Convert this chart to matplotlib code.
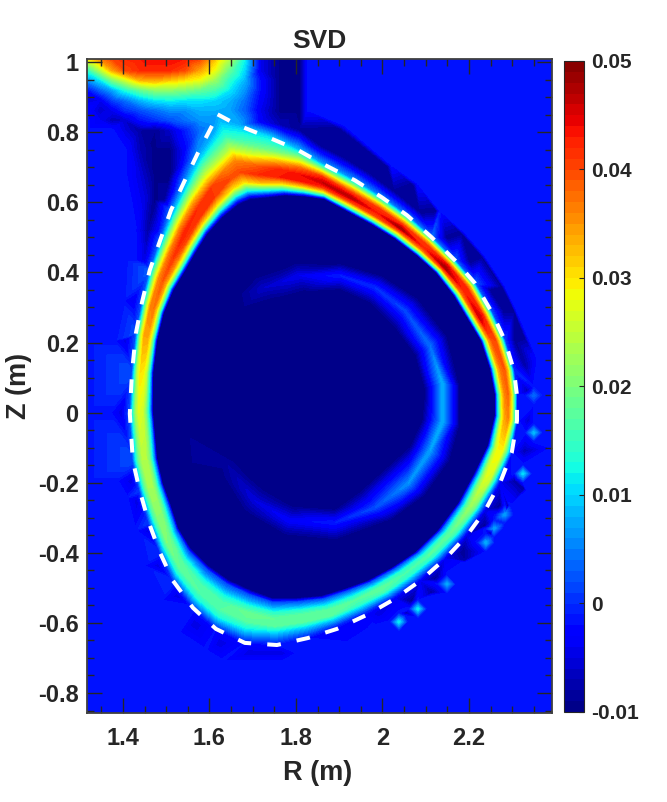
import numpy as np
import matplotlib
matplotlib.use('Agg')
import matplotlib.pyplot as plt

plt.rcParams['font.family'] = ['Liberation Sans', 'DejaVu Sans']
plt.rcParams['font.weight'] = 'bold'

dark = '#262626'
bg_val = -0.0016

# last closed flux surface
lcfs_r = [1.619, 1.666, 1.735, 1.802, 1.855, 1.936, 1.999, 2.057, 2.114, 2.168, 2.214, 2.253, 2.283, 2.304, 2.311,
          2.311, 2.299, 2.272, 2.237, 2.195, 2.145, 2.087, 2.029, 1.964, 1.895, 1.828, 1.756, 1.682, 1.615, 1.562,
          1.516, 1.486, 1.460, 1.439, 1.423, 1.416, 1.421, 1.430, 1.444, 1.462, 1.486, 1.511, 1.541, 1.573, 1.608]
lcfs_z = [0.851, 0.820, 0.786, 0.751, 0.714, 0.663, 0.614, 0.563, 0.500, 0.434, 0.369, 0.286, 0.206, 0.120, 0.049,
          -0.023, -0.114, -0.200, -0.280, -0.351, -0.417, -0.480, -0.531, -0.577, -0.617, -0.643, -0.663, -0.657, -0.617, -0.557,
          -0.480, -0.400, -0.314, -0.223, -0.137, -0.003, 0.114, 0.226, 0.314, 0.406, 0.491, 0.577, 0.657, 0.740, 0.823]

# edge of the dark core, same stations as the flux surface
core_r = [1.694, 1.735, 1.775, 1.821, 1.867, 1.920, 1.976, 2.029, 2.080, 2.124, 2.165, 2.200, 2.228, 2.249, 2.260,
          2.260, 2.244, 2.214, 2.175, 2.128, 2.075, 2.022, 1.966, 1.913, 1.860, 1.802, 1.744, 1.694, 1.643, 1.597,
          1.555, 1.527, 1.509, 1.492, 1.479, 1.469, 1.470, 1.479, 1.494, 1.516, 1.541, 1.566, 1.594, 1.629, 1.666]
core_z = [0.609, 0.614, 0.620, 0.617, 0.609, 0.574, 0.537, 0.497, 0.449, 0.400, 0.335, 0.263, 0.206, 0.126, 0.054,
          -0.009, -0.094, -0.171, -0.260, -0.337, -0.400, -0.443, -0.480, -0.503, -0.523, -0.529, -0.529, -0.506, -0.477, -0.437,
          -0.386, -0.329, -0.260, -0.203, -0.131, 0.006, 0.114, 0.206, 0.284, 0.349, 0.400, 0.454, 0.509, 0.557, 0.594]

# values across the radiating ring, at these fractions of the way from core edge to flux surface
ring_frac = [0.1, 0.2, 0.32, 0.45, 0.6, 0.75, 0.9, 1.0]
ring_vals = [
    [.012, .030, .040, .036, .024, .014, .009, .007],
    [.012, .032, .042, .038, .026, .017, .012, .008],
    [.012, .030, .043, .042, .032, .020, .014, .011],
    [.012, .030, .043, .044, .038, .027, .016, .009],
    [.012, .029, .041, .046, .042, .030, .015, .007],
    [.011, .027, .040, .047, .040, .029, .014, .006],
    [.010, .026, .040, .043, .041, .030, .014, .005],
    [.010, .025, .038, .048, .041, .030, .014, .004],
    [.009, .024, .037, .042, .041, .032, .015, .004],
    [.009, .024, .039, .048, .044, .032, .015, .003],
    [.009, .024, .038, .042, .042, .033, .015, .003],
    [.009, .024, .037, .046, .043, .031, .014, .002],
    [.008, .022, .034, .039, .040, .030, .013, .001],
    [.007, .020, .032, .037, .039, .031, .013, .000],
    [.007, .018, .030, .036, .038, .030, .013, -.001],
    [.006, .016, .028, .034, .036, .028, .012, -.001],
    [.005, .014, .025, .029, .029, .020, .007, -.002],
    [.004, .012, .022, .027, .026, .014, .002, -.004],
    [.003, .010, .018, .022, .019, .009, .000, -.005],
    [.002, .008, .015, .018, .015, .007, -.001, -.005],
    [.002, .008, .014, .017, .014, .007, .000, -.004],
    [.002, .007, .014, .016, .014, .007, .000, -.004],
    [.002, .007, .014, .018, .016, .008, .000, -.004],
    [.002, .007, .013, .017, .015, .008, .000, -.003],
    [.002, .007, .013, .018, .017, .008, .000, -.003],
    [.002, .007, .014, .018, .017, .009, .002, -.002],
    [.002, .007, .014, .018, .017, .009, .002, -.002],
    [.002, .007, .014, .019, .017, .011, .003, -.002],
    [.002, .006, .012, .016, .017, .013, .004, -.002],
    [.002, .006, .012, .016, .017, .013, .005, -.001],
    [.002, .007, .013, .017, .018, .013, .005, .000],
    [.003, .009, .015, .019, .020, .014, .006, .000],
    [.003, .010, .017, .021, .021, .016, .007, .001],
    [.004, .011, .019, .023, .023, .018, .009, .001],
    [.004, .012, .020, .024, .024, .019, .010, .002],
    [.005, .013, .021, .026, .027, .022, .011, .002],
    [.005, .015, .025, .029, .030, .024, .011, .002],
    [.006, .018, .029, .034, .034, .026, .011, .002],
    [.007, .020, .031, .037, .036, .026, .011, .002],
    [.008, .022, .034, .039, .036, .026, .012, .003],
    [.010, .026, .036, .041, .037, .026, .012, .003],
    [.012, .028, .040, .043, .036, .024, .010, .004],
    [.012, .030, .041, .042, .034, .022, .010, .005],
    [.012, .030, .041, .041, .030, .020, .010, .006],
    [.012, .030, .040, .036, .024, .015, .008, .006],
]

# X-point plume at the top of the frame
plume_r = [1.317, 1.347, 1.375, 1.405, 1.439, 1.474, 1.509, 1.543, 1.578, 1.613, 1.647, 1.682, 1.717, 1.763, 1.809, 1.828]
plume_z = [1.009, 0.977, 0.949, 0.920, 0.891, 0.863]
plume_vals = [
    [.030, .036, .040, .042, .043, .044, .044, .043, .040, .032, .024, .012, -.004, -.0095, -.0095, bg_val],
    [.014, .024, .034, .040, .042, .042, .042, .040, .034, .028, .018, .010, -.004, -.0095, -.0095, bg_val],
    [.006, .011, .020, .026, .033, .034, .032, .030, .028, .022, .014, .008, -.002, -.0095, -.0095, bg_val],
    [-.002, .003, .007, .013, .018, .021, .021, .020, .018, .016, .011, .006, -.002, -.0095, -.0095, bg_val],
    [-.005, -.004, .001, .004, .008, .011, .012, .011, .011, .010, .008, .004, -.003, -.0095, -.0095, bg_val],
    [-.002, -.006, -.004, .000, .002, .004, .006, .006, .008, .008, .007, .003, -.004, -.0095, -.0095, bg_val],
]

# field outside the plasma: dark band along the flux surface and the flat background
outer_r = [1.317, 1.347, 1.375, 1.405, 1.439, 1.474, 1.509, 1.543, 1.578,
           1.317, 1.375, 1.405, 1.439, 1.474, 1.509, 1.543, 1.578,
           1.317, 1.405, 1.439, 1.474, 1.509, 1.543,
           1.317, 1.405, 1.439, 1.474, 1.509,
           1.317, 1.416, 1.451, 1.474, 1.497,
           1.317, 1.405, 1.428, 1.458, 1.481,
           1.317, 1.405, 1.430, 1.450,
           1.317, 1.400, 1.425, 1.317, 1.380, 1.405, 1.317, 1.370, 1.395, 1.317, 1.385, 1.420,
           1.409, 1.432, 1.428, 1.458, 1.446, 1.481, 1.486, 1.527, 1.527, 1.566, 1.590, 1.624,
           1.629, 1.694, 1.694, 1.770, 1.770, 1.805,
           1.925, 1.913, 1.992, 1.983, 2.068, 2.052, 2.121, 2.114, 2.186, 2.191, 2.237, 2.253, 2.272, 2.295,
           2.306, 2.334, 2.329, 2.336, 2.334, 2.329, 2.359, 2.306, 2.336, 2.279, 2.311, 2.249, 2.283,
           2.202, 2.237, 2.149, 2.191, 2.087, 2.133, 2.029, 2.082, 1.966, 2.022, 1.913, 1.960, 1.855, 1.913,
           1.809, 1.763, 1.717, 1.682]
outer_z = [.834, .834, .834, .834, .834, .834, .834, .834, .834,
           .806, .806, .806, .806, .806, .806, .806, .806,
           .749, .749, .749, .749, .749, .749,
           .677, .677, .677, .677, .677,
           .606, .606, .606, .606, .606,
           .520, .520, .520, .520, .520,
           .434, .434, .434, .434,
           .320, .320, .320, .206, .206, .206, .000, .000, .000, -.194, -.194, -.194,
           -.243, -.251, -.337, -.337, -.437, -.437, -.537, -.523, -.629, -.600, -.680, -.657,
           -.709, -.709, -.686, -.709, -.686, -.686,
           -.629, -.666, -.571, -.609, -.537, -.580, -.474, -.523, -.394, -.429, -.323, -.351, -.266, -.266,
           -.194, -.223, -.109, -.023, .063, .134, .149, .206, .220, .291, .291, .349, .363,
           .429, .449, .497, .514, .571, .577, .629, .654, .686, .706, .726, .771, .763, .820,
           .806, .820, .829, .834]
outer_v = [bg_val, -.004, -.007, -.006, -.002, .000, .002, .004, .006,
           bg_val, bg_val, -.005, -.008, -.009, -.006, -.001, .004,
           bg_val, bg_val, -.007, -.0095, -.0095, -.003,
           bg_val, bg_val, -.005, -.0095, -.0095,
           bg_val, bg_val, -.005, -.0095, -.008,
           bg_val, bg_val, bg_val, -.008, -.003,
           bg_val, bg_val, bg_val, -.005,
           bg_val, bg_val, -.004, bg_val, bg_val, -.005, bg_val, bg_val, -.005, bg_val, bg_val, -.005,
           bg_val, -.005, bg_val, -.005, bg_val, -.005, bg_val, -.005, bg_val, -.005, bg_val, -.005,
           bg_val, bg_val, -.005, bg_val, -.005, bg_val,
           -.003, bg_val, -.005, bg_val, -.009, bg_val, -.009, bg_val, -.009, bg_val, -.009, bg_val, -.009, bg_val,
           -.008, bg_val, -.007, -.006, -.007, -.008, bg_val, -.009, bg_val, -.009, bg_val, -.009, bg_val,
           -.009, bg_val, -.009, bg_val, -.009, bg_val, -.009, bg_val, -.009, bg_val, -.009, bg_val, -.009, bg_val,
           -.009, -.007, -.003, .005]

# outer rim of the dark band, keeps its edge sharp
edge_r = [2.328, 2.304, 2.276, 2.230, 2.183, 2.124, 2.071, 2.011, 1.951, 1.902,
          2.055, 2.115, 2.190, 2.250, 2.290, 2.328]
edge_z = [.217, .291, .360, .445, .511, .576, .649, .702, .762, .809,
          -.571, -.513, -.422, -.345, -.266, -.217]
edge_v = [-.009, -.009, -.009, -.009, -.009, -.009, -.009, -.009, -.009, -.009,
          -.008, -.008, -.008, -.008, -.008, -.008]

# frame of the flat background
frame_r = [1.317, 1.5, 1.7, 1.9, 2.1, 2.3, 2.392, 2.392, 2.392, 2.392, 2.392, 2.392, 2.392, 2.2, 2.0]
frame_z = [-.857, -.857, -.857, -.857, -.857, -.857, -.857, -.5, -.1, .3, .6, .85, 1.009, 1.009, 1.009]

# small spots outside the plasma
spot_r = [2.038, 2.082, 2.149, 2.239, 2.258, 2.283, 2.325, 2.350, 2.350]
spot_z = [-.597, -.560, -.489, -.371, -.331, -.291, -.174, -.057, .049]
spot_v = [.012, .012, .008, .008, .007, .007, .011, .009, .004]

# faint crescent inside the core
cres_r = [1.682, 1.728, 1.809, 1.902, 1.983, 2.052, 2.110, 2.140, 2.140, 2.110, 2.059, 1.983, 1.890, 1.786, 1.705, 1.643]
cres_z = [.306, .357, .391, .391, .357, .291, .191, .077, -.023, -.109, -.203, -.271, -.314, -.309, -.251, -.151]
cres_v = [-.009, -.006, -.004, -.001, .000, .0015, .004, .008, .008, .007, .006, .002, -.001, -.003, -.005, -.008]
cres_in_r = [1.705, 1.751, 1.821, 1.902, 1.971, 2.029, 2.075, 2.098, 2.091, 2.064, 2.013, 1.948, 1.890, 1.798, 1.728, 1.671]
cres_in_z = [.277, .320, .343, .349, .311, .240, .163, .063, -.023, -.094, -.151, -.223, -.274, -.266, -.217, -.137]
cres_out_r = [1.659, 1.705, 1.798, 1.902, 1.999, 2.082, 2.149, 2.179, 2.179, 2.156, 2.098, 2.017, 1.890, 1.775, 1.677, 1.620]
cres_out_z = [.334, .391, .429, .426, .391, .326, .220, .077, -.037, -.137, -.237, -.309, -.366, -.352, -.280, -.166]

# axis ticks
r_ticks = [1.4, 1.6, 1.8, 2.0, 2.2]
r_labels = ['1.4', '1.6', '1.8', '2', '2.2']
z_ticks = [-0.8, -0.6, -0.4, -0.2, 0, 0.2, 0.4, 0.6, 0.8, 1]
z_labels = ['-0.8', '-0.6', '-0.4', '-0.2', '0', '0.2', '0.4', '0.6', '0.8', '1']
cb_ticks = [-0.01, 0, 0.01, 0.02, 0.03, 0.04, 0.05]
cb_labels = ['-0.01', '0', '0.01', '0.02', '0.03', '0.04', '0.05']

lr, lz, cr, cz = map(np.array, (lcfs_r, lcfs_z, core_r, core_z))
vals = np.array(ring_vals)

# outside field: plume, dark band, frame, spots and the flux surface itself
pr, pz = np.meshgrid(plume_r, plume_z)
xs = [lr, pr.ravel(), np.array(outer_r), np.array(edge_r), np.array(frame_r), np.array(spot_r)]
ys = [lz, pz.ravel(), np.array(outer_z), np.array(edge_z), np.array(frame_z), np.array(spot_z)]
vs = [vals[:, -1], np.array(plume_vals).ravel(), np.array(outer_v), np.array(edge_v),
      np.full(len(frame_r), bg_val), np.array(spot_v)]

# flat ring around every spot keeps it a small diamond
for dx, dy in [(0.02, 0), (-0.02, 0), (0, 0.025), (0, -0.025)]:
    xs.append(np.array(spot_r) + dx)
    ys.append(np.array(spot_z) + dy)
    vs.append(np.full(len(spot_r), bg_val))

# core with the crescent
core_x = np.concatenate([cr, cres_r, cres_in_r, cres_out_r])
core_y = np.concatenate([cz, cres_z, cres_in_z, cres_out_z])
core_v = np.concatenate([np.full(len(cr), -0.01), cres_v, np.full(len(cres_in_r), -0.01), np.full(len(cres_out_r), -0.01)])

# ring as a curved grid, stations closed on themselves
frac = np.array([0.0] + ring_frac)
ring_x = np.array([cr + f * (lr - cr) for f in frac]).T
ring_y = np.array([cz + f * (lz - cz) for f in frac]).T
ring_v = np.column_stack([np.full(len(cr), -0.01), vals])
ring_x = np.vstack([ring_x, ring_x[:1]])
ring_y = np.vstack([ring_y, ring_y[:1]])
ring_v = np.vstack([ring_v, ring_v[:1]])

fig = plt.figure(figsize=(6.67, 8.02), dpi=100)
ax = fig.add_axes([87 / 667, 1 - 713 / 802, 465 / 667, 654 / 802])
levels = np.arange(-0.01, 0.0505, 0.001)
levels[0] = -0.01001
kw = dict(levels=levels, cmap='jet', vmin=-0.01, vmax=0.05)
ax.tricontourf(np.concatenate(xs), np.concatenate(ys), np.concatenate(vs), **kw)
ax.tricontourf(core_x, core_y, core_v, **kw)
cf = ax.contourf(ring_x, ring_y, ring_v, **kw)

ax.plot(lcfs_r + lcfs_r[:1], lcfs_z + lcfs_z[:1], color='white', lw=2.9, dashes=(3.4, 4.0))

ax.set_xlim(1.317, 2.392)
ax.set_ylim(-0.857, 1.009)
ax.set_xticks(r_ticks, r_labels)
ax.set_yticks(z_ticks, z_labels)
ax.set_xticks(np.arange(1.35, 2.4, 0.05), minor=True)
ax.set_yticks(np.arange(-0.85, 1.01, 0.05), minor=True)
ax.tick_params(which='major', direction='in', length=10.5, width=1.0, color=dark, top=True, right=True,
               labelsize=17, labelcolor=dark, pad=6)
ax.tick_params(axis='x', which='major', pad=10)
ax.tick_params(which='minor', direction='in', length=5, width=1.0, color=dark, top=True, right=True)
for s in ax.spines.values():
    s.set_linewidth(1.3)
    s.set_color('#404040')
ax.set_xlabel('R (m)', fontsize=19.5, fontweight='bold', color=dark, labelpad=7, x=0.495)
ax.set_ylabel('Z (m)', fontsize=19.5, fontweight='bold', color=dark, labelpad=4)
ax.set_title('SVD', fontsize=19, fontweight='bold', color=dark, pad=8)

cax = fig.add_axes([564 / 667, 1 - 712 / 802, 20 / 667, 651 / 802])
cb = fig.colorbar(cf, cax=cax, ticks=cb_ticks)
cb.ax.set_yticklabels(cb_labels)
cb.ax.tick_params(direction='in', length=3.5, width=0.8, color=dark, labelsize=15, labelcolor=dark, pad=5)
cb.outline.set_linewidth(0.8)
cb.outline.set_edgecolor(dark)

fig.savefig('out.png', dpi=100)
